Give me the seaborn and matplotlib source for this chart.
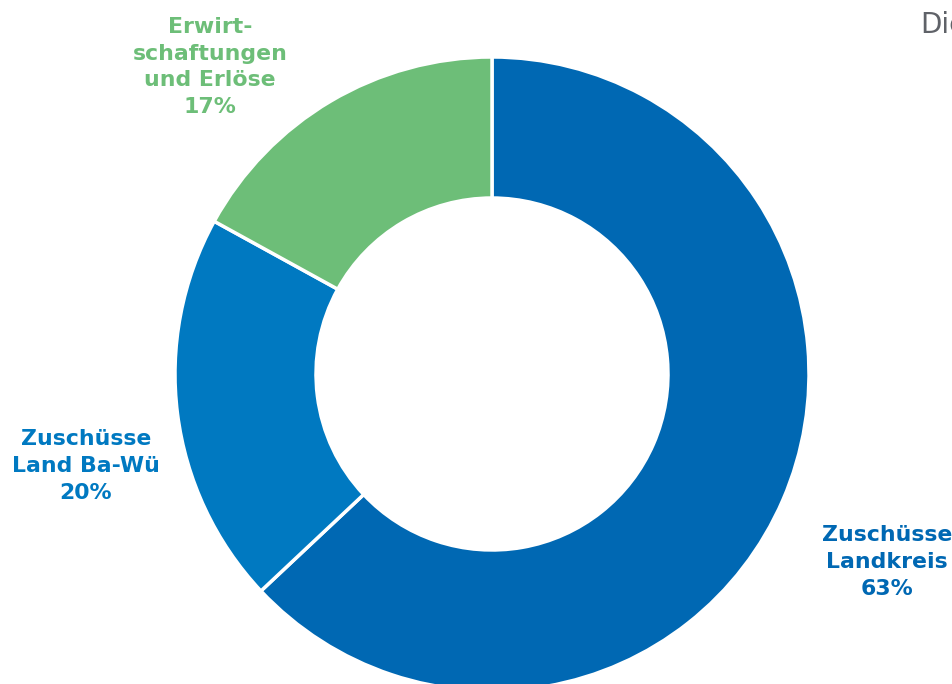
import matplotlib
matplotlib.use("Agg")
import matplotlib.pyplot as plt
import seaborn as sns

# Data
labels = ["Zuschüsse\nLandkreis", "Zuschüsse\nLand Ba-Wü", "Erwirt-\nschaftungen\nund Erlöse"]
shares = [63, 20, 17]
colors = ["#0068B3", "#0079C1", "#6DBE78"]

sns.set_theme(style="white")
plt.rcParams["font.family"] = ["DejaVu Sans"]

fig = plt.figure(figsize=(9.53, 6.84), dpi=100)
ax = fig.add_axes([0, 0, 1, 1])
ax.set_xlim(0, 953)
ax.set_ylim(0, 684)
ax.set_aspect("equal")
ax.axis("off")

# donut
ax.pie(shares, colors=colors, startangle=90, counterclock=False,
       center=(492, 310), radius=317,
       wedgeprops=dict(width=141, edgecolor="white", linewidth=2.5))
ax.set_xlim(0, 953)
ax.set_ylim(0, 684)

# labels
label_pos = [(887, 122), (86, 218), (210, 617)]
for lab, s, c, (x, y) in zip(labels, shares, colors, label_pos):
    ax.text(x, y, f"{lab}\n{s}%", ha="center", va="center", color=c,
            fontsize=15.8, fontweight="bold", linespacing=1.42)

ax.text(920, 659, "Die", ha="left", va="center", color="#5F6268", fontsize=20)

fig.savefig("out.png", dpi=100)
